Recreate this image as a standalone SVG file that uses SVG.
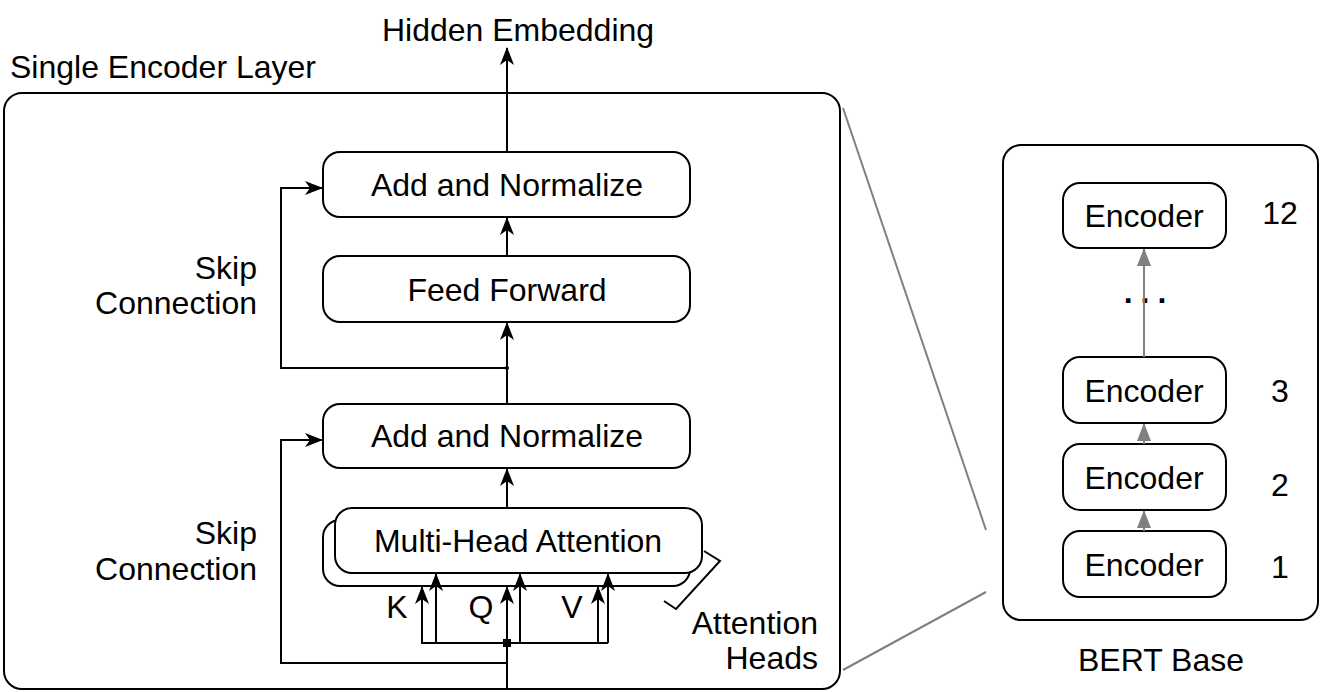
<svg xmlns="http://www.w3.org/2000/svg" width="1322" height="692" viewBox="0 0 1322 692">
<style>
text{font-family:"Liberation Sans",Arial,sans-serif;font-size:32px;fill:#000}
.c{text-anchor:middle}
.r{text-anchor:end}
.box{fill:#fff;stroke:#000;stroke-width:2}
.ln{fill:none;stroke:#000;stroke-width:2}
.gl{fill:none;stroke:#808080;stroke-width:2}
</style>
<defs>
<marker id="a" viewBox="0 0 18 14" refX="17" refY="7" markerWidth="18" markerHeight="14" markerUnits="userSpaceOnUse" orient="auto">
<path d="M0,0 L18,7 L0,14 L5,7 z" fill="#000"/>
</marker>
<marker id="g" viewBox="0 0 18 14" refX="17" refY="7" markerWidth="18" markerHeight="14" markerUnits="userSpaceOnUse" orient="auto">
<path d="M0,0 L18,7 L0,14 z" fill="#808080"/>
</marker>
</defs>
<rect width="1322" height="692" fill="#fff"/>

<g id="encoder-layer">
<rect class="box" x="4" y="93" width="836" height="596" rx="18"/>
<text x="10" y="78">Single Encoder Layer</text>
</g>
<text id="hidden-embedding" class="c" x="518" y="41">Hidden Embedding</text>

<g id="add-norm-top"><rect class="box" x="323" y="152" width="367" height="65" rx="17"/><text class="c" x="507" y="196">Add and Normalize</text></g>
<g id="feed-forward"><rect class="box" x="323" y="256" width="367" height="66" rx="17"/><text class="c" x="507" y="301">Feed Forward</text></g>
<g id="add-norm-bottom"><rect class="box" x="323" y="404" width="367" height="64" rx="17"/><text class="c" x="507" y="447">Add and Normalize</text></g>
<g id="mha">
<rect class="box" x="323" y="520" width="367" height="66" rx="17"/>
<rect class="box" x="335" y="508" width="367" height="65" rx="17"/>
<text class="c" x="518" y="552">Multi-Head Attention</text>
</g>

<g id="bert-base">
<rect class="box" x="1003" y="145" width="315" height="475" rx="18"/>
<text class="c" x="1161" y="671">BERT Base</text>
<text class="c" x="1149" y="303" style="font-weight:bold;letter-spacing:8px">...</text>
</g>
<g id="encoder-12"><rect class="box" x="1063" y="183" width="163" height="65" rx="17"/><text class="c" x="1144" y="227">Encoder</text><text class="c" x="1280" y="224">12</text></g>
<g id="encoder-3"><rect class="box" x="1063" y="357" width="163" height="66" rx="17"/><text class="c" x="1144" y="402">Encoder</text><text class="c" x="1280" y="402">3</text></g>
<g id="encoder-2"><rect class="box" x="1063" y="444" width="163" height="66" rx="17"/><text class="c" x="1144" y="489">Encoder</text><text class="c" x="1280" y="496">2</text></g>
<g id="encoder-1"><rect class="box" x="1063" y="531" width="163" height="66" rx="17"/><text class="c" x="1144" y="576">Encoder</text><text class="c" x="1280" y="578">1</text></g>

<g id="labels">
<text class="r" x="257" y="279">Skip</text>
<text class="r" x="257" y="314">Connection</text>
<text class="r" x="257" y="544">Skip</text>
<text class="r" x="257" y="580">Connection</text>
<text class="c" x="397" y="618">K</text>
<text class="c" x="481" y="618">Q</text>
<text class="c" x="572" y="618">V</text>
<text class="r" x="818" y="634">Attention</text>
<text class="r" x="818" y="669">Heads</text>
<polyline class="ln" points="704,551 720,561 676,609 664,601"/>
</g>

<g id="connectors">
<line class="ln" x1="507" y1="152" x2="507" y2="48" marker-end="url(#a)"/>
<line class="ln" x1="507" y1="256" x2="507" y2="218" marker-end="url(#a)"/>
<line class="ln" x1="507" y1="404" x2="507" y2="323" marker-end="url(#a)"/>
<polyline class="ln" points="507,368 281,368 281,188 322,188" marker-end="url(#a)"/>
<line class="ln" x1="507" y1="508" x2="507" y2="469" marker-end="url(#a)"/>
<polyline class="ln" points="507,663 281,663 281,440 322,440" marker-end="url(#a)"/>
<line class="ln" x1="507" y1="688" x2="507" y2="587" marker-end="url(#a)"/>
<polyline class="ln" points="422,587 422,643 608,643"/>
<line class="ln" x1="422" y1="643" x2="422" y2="587" marker-end="url(#a)"/>
<line class="ln" x1="436" y1="643" x2="436" y2="574" marker-end="url(#a)"/>
<line class="ln" x1="520" y1="643" x2="520" y2="574" marker-end="url(#a)"/>
<line class="ln" x1="598" y1="643" x2="598" y2="587" marker-end="url(#a)"/>
<line class="ln" x1="608" y1="643" x2="608" y2="574" marker-end="url(#a)"/>
<rect x="503" y="639" width="8" height="8" fill="#000"/>
<circle cx="507" cy="368" r="2" fill="#000"/>
<line class="gl" x1="843" y1="108" x2="986" y2="530"/>
<line class="gl" x1="843" y1="670" x2="986" y2="592"/>
<line class="gl" x1="1144" y1="357" x2="1144" y2="249" marker-end="url(#g)"/>
<line class="gl" x1="1144" y1="444" x2="1144" y2="424" marker-end="url(#g)"/>
<line class="gl" x1="1144" y1="531" x2="1144" y2="511" marker-end="url(#g)"/>
</g>
</svg>
